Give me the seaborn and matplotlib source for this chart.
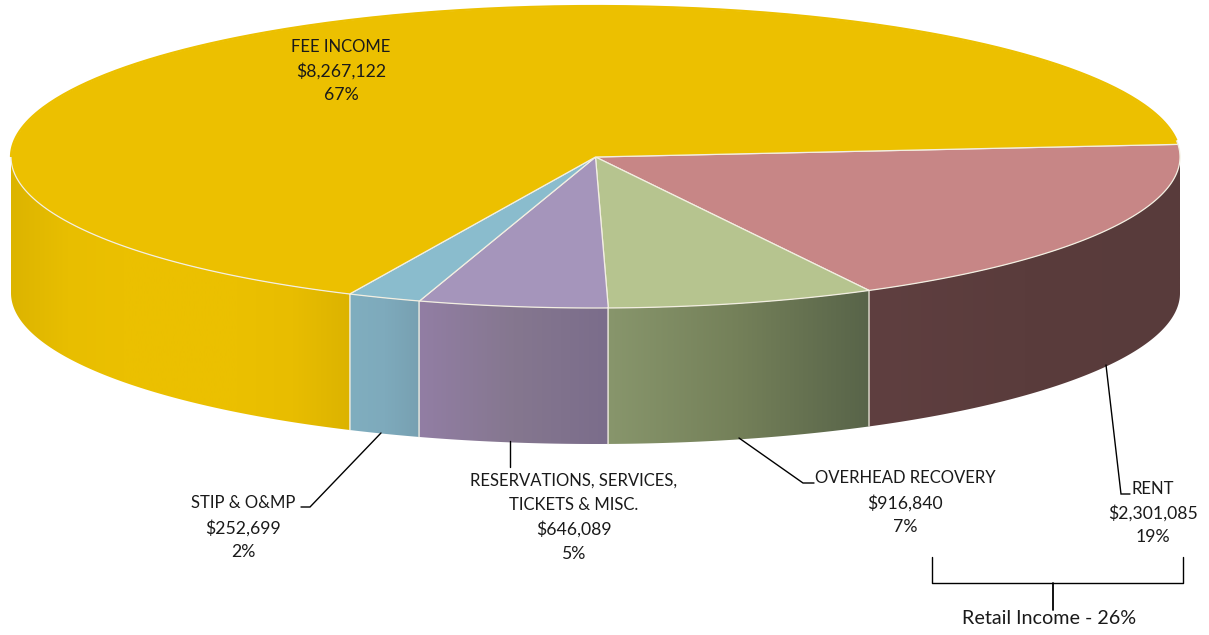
import numpy as np
import matplotlib
matplotlib.use("Agg")
import matplotlib.pyplot as plt
from matplotlib.patches import Polygon
import seaborn as sns

# Income by source, clockwise from the rent slice
categories = ["RENT", "OVERHEAD RECOVERY", "RESERVATIONS, SERVICES,\nTICKETS & MISC.", "STIP & O&MP", "FEE INCOME"]
amounts = [2301085, 916840, 646089, 252699, 8267122]
top_colors = ["#c78686", "#b6c48f", "#a595bb", "#8abccd", "#ecc000"]
side_ramps = [
    ["#5f3f40", "#5a3c3c", "#583b3b"],
    ["#88966c", "#748059", "#586449"],
    ["#927ea4", "#85778f", "#7b6d8b"],
    ["#80aebf", "#7eaabc", "#77a0b1"],
    ["#dcb400", "#e8be00", "#ebc000", "#ebc000", "#ebc000", "#e8bd00", "#dcb300"],
]
retail_label = "Retail Income"
retail_members = ["RENT", "OVERHEAD RECOVERY"]

sns.set_theme(style="white")
plt.rcParams["font.family"] = ["Lato", "DejaVu Sans"]

W, H = 1209, 635
fig = plt.figure(figsize=(W / 100, H / 100), dpi=100)
ax = fig.add_axes([0, 0, 1, 1])
ax.set_axis_off()

# Disc geometry in figure pixels
CX, CY, A, B, DEPTH = 595.5, 157.0, 584.5, 151.0, 136.0
START_DEG = 4.8
EDGE = "#f3efe2"


def rim(a0, a1, dy=0.0, n=200):
    t = np.radians(np.linspace(a0, a1, n))
    return np.column_stack([CX + A * np.cos(t), CY - B * np.sin(t) + dy])


total = sum(amounts)
sweeps = np.array(amounts) / total * 360.0
ends = START_DEG - np.cumsum(sweeps)
starts = np.concatenate([[START_DEG], ends[:-1]])

# Front wall of the disc, one shaded band per slice
for a0, a1, ramp in zip(starts, ends, side_ramps):
    v0, v1 = min(a0, 0.0), max(a1, -180.0)
    upper = rim(v0, v1)
    lower = rim(v1, v0, DEPTH)
    poly = Polygon(np.vstack([upper, lower]), closed=True, transform=ax.transData,
                   facecolor="none", edgecolor="none")
    ax.add_patch(poly)
    x0, x1 = sorted([upper[0, 0], upper[-1, 0]])
    cmap = sns.blend_palette(ramp if upper[0, 0] > upper[-1, 0] else ramp[::-1], as_cmap=True)
    img = ax.imshow(np.linspace(0, 1, 256)[None, :], extent=[x0, x1, H, 0], cmap=cmap,
                    aspect="auto", interpolation="bilinear", zorder=1)
    img.set_clip_path(poly)
    # Pale seam down the wall at each visible slice boundary
    if a0 <= 0:
        p = rim(a0, a0, 0, 1)[0]
        ax.plot([p[0], p[0]], [p[1], p[1] + DEPTH], color=EDGE, lw=1.1, alpha=0.8, zorder=2)

# Top face of each slice
for a0, a1, color in zip(starts, ends, top_colors):
    pts = np.vstack([[[CX, CY]], rim(a0, a1, n=400)])
    ax.add_patch(Polygon(pts, closed=True, facecolor=color, edgecolor=EDGE, lw=0.9,
                         joinstyle="round", zorder=3))
# Back rim of the fee slice carries no pale outline
back = rim(START_DEG + 1.5, 180, n=300)
ax.plot(*back.T, color=top_colors[-1], lw=1.6, solid_capstyle="butt", zorder=4)

# Leader lines
ax_lines = [
    ([1106, 1121, 1130], [365, 494, 494]),
    ([739, 803, 814], [438, 483, 483]),
    ([510, 510], [441, 467]),
    ([381, 310, 301], [433, 507, 507]),
]
for xs, ys in ax_lines:
    ax.plot(xs, ys, color="black", lw=1.0, solid_joinstyle="miter", zorder=5)

# Bracket grouping the retail slices
ax.plot([932, 932, 1183, 1183], [557, 583, 583, 557], color="black", lw=1.0, zorder=5)
ax.plot([1053, 1053], [583, 610], color="black", lw=1.3, zorder=5)


def money(v):
    return f"${v:,.0f}"


def pct(v):
    return f"{v / total * 100:.0f}%"


label_spots = [
    (1153, [489, 513, 537]),
    (905, [478, 503, 527]),
    (574, [481, 505, 529, 554]),
    (243, [503, 528, 552]),
    (341, [47, 71, 95]),
]
NAME_SIZE, FIGURE_SIZE = 11.95, 12.7
for name, val, (xc, ys) in zip(categories, amounts, label_spots):
    name_lines = name.split("\n")
    lines = name_lines + [money(val), pct(val)]
    for i, (line, y) in enumerate(zip(lines, ys)):
        size = NAME_SIZE if i < len(name_lines) else FIGURE_SIZE
        ax.text(xc, y, line, ha="center", va="center", fontsize=size, color="#1a1a1a", zorder=6)

retail_share = sum(a for c, a in zip(categories, amounts) if c in retail_members) / total * 100
ax.text(1049, 619, f"{retail_label} - {retail_share:.0f}%", ha="center", va="center",
        fontsize=14.2, color="#1a1a1a", zorder=6)

ax.set_xlim(0, W)
ax.set_ylim(H, 0)
fig.savefig("out.png", dpi=100, facecolor="white")
